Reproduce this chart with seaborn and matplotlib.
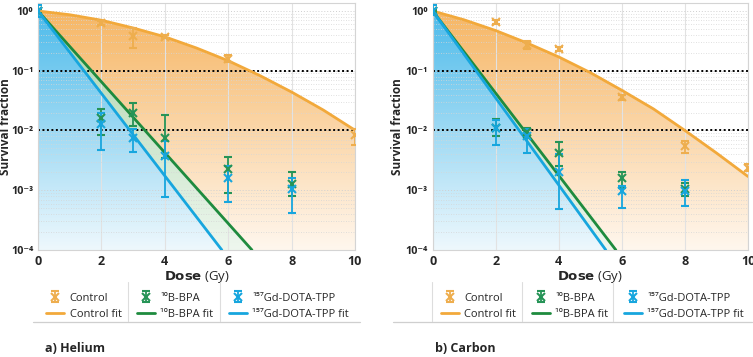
import numpy as np
import matplotlib
matplotlib.use('Agg')
import matplotlib.pyplot as plt
import seaborn as sns
from matplotlib.colors import LinearSegmentedColormap
from matplotlib.lines import Line2D
from matplotlib.ticker import LogLocator, NullFormatter

sns.set_theme(style='white')
plt.rcParams['font.family'] = ['Open Sans', 'DejaVu Sans']

# ---- data ----
dose_ctrl_he = [0, 2, 3, 4, 6, 10]
ctrl_he = [1.0, 0.63, 0.38, 0.37, 0.16, 0.0085]
ctrl_he_hi = [1.05, 0.68, 0.52, 0.39, 0.18, 0.0105]
ctrl_he_lo = [0.95, 0.58, 0.24, 0.35, 0.14, 0.0058]

dose_drug = [0, 2, 3, 4, 6, 8]
bpa_he = [1.0, 0.016, 0.020, 0.0076, 0.0023, 0.00126]
bpa_he_hi = [1.08, 0.023, 0.029, 0.018, 0.0036, 0.0020]
bpa_he_lo = [0.92, 0.0085, 0.012, 0.0035, 0.00089, 0.0008]
gd_he = [1.0, 0.013, 0.0074, 0.0038, 0.0016, 0.00104]
gd_he_hi = [1.25, 0.020, 0.0105, 0.0066, 0.0025, 0.0016]
gd_he_lo = [0.80, 0.0048, 0.0043, 0.00076, 0.00063, 0.00042]

dose_ctrl_c = [0, 2, 3, 4, 6, 8, 10]
ctrl_c = [1.0, 0.65, 0.27, 0.23, 0.036, 0.0055, 0.0024]
ctrl_c_hi = [1.05, 0.70, 0.31, 0.25, 0.040, 0.0066, 0.0027]
ctrl_c_lo = [0.95, 0.60, 0.23, 0.21, 0.032, 0.0042, 0.0021]
bpa_c = [1.0, 0.011, 0.0093, 0.0042, 0.0016, 0.00105]
bpa_c_hi = [1.05, 0.0156, 0.011, 0.0064, 0.0020, 0.0013]
bpa_c_lo = [0.95, 0.008, 0.0075, 0.0025, 0.0011, 0.0008]
gd_c = [1.0, 0.011, 0.008, 0.002, 0.00098, 0.00098]
gd_c_hi = [1.25, 0.015, 0.0105, 0.004, 0.0012, 0.0015]
gd_c_lo = [0.85, 0.0057, 0.0042, 0.00048, 0.0005, 0.00054]

fit_dose = [0, 1, 2, 3, 4, 5, 6, 7, 8, 9, 10]
ctrl_fit_he = [1.0, 0.865, 0.70, 0.52, 0.37, 0.24, 0.147, 0.083, 0.044, 0.022, 0.0101]
ctrl_fit_c = [1.0, 0.71, 0.47, 0.29, 0.17, 0.093, 0.047, 0.023, 0.010, 0.0042, 0.0017]
bpa_fit_he_x = [0, 6.75]
gd_fit_he_x = [0, 5.8]
bpa_fit_c_x = [0, 5.81]
gd_fit_c_x = [0, 5.49]
fit_line_y = [1.0, 1e-4]

xticks = [0, 2, 4, 6, 8, 10]
yticks = [1e-4, 1e-3, 1e-2, 1e-1, 1e0]
ytick_labels = ['10⁻⁴', '10⁻³', '10⁻²', '10⁻¹', '10⁰']
labels = ['Control', 'Control fit', '¹⁰B-BPA', '¹⁰B-BPA fit',
          '¹⁵⁷Gd-DOTA-TPP', '¹⁵⁷Gd-DOTA-TPP fit']

ORANGE = '#f2a93b'
ORANGE_PT = '#eeae4e'
GREEN = '#1e8b3e'
GREEN_PT = '#269457'
BLUE = '#17a6de'
YMIN, YMAX = 1e-4, 1.36


def gradient_fill(ax, x, y, top, bottom, z):
    poly = ax.fill_between(x, y, YMIN, color='none', lw=0)
    cmap = LinearSegmentedColormap.from_list('g', [bottom, top])
    grad = np.linspace(0, 1, 256).reshape(-1, 1)
    im = ax.imshow(grad, cmap=cmap, aspect='auto', extent=[0, 1, 0, 1],
                   transform=ax.transAxes, origin='lower', zorder=z)
    im.set_clip_path(poly.get_paths()[0], transform=ax.transData)


def draw_panel(ax, dose_ctrl, ctrl, ctrl_lo, ctrl_hi, bpa, bpa_lo, bpa_hi,
               gd, gd_lo, gd_hi, ctrl_fit, bpa_x, gd_x, ylab_x):
    ax.set_yscale('log')
    gradient_fill(ax, fit_dose, ctrl_fit, '#f6b460', '#fff7ee', 0.1)
    gradient_fill(ax, bpa_x, fit_line_y, '#a6d3a6', '#eef7ee', 0.2)
    gradient_fill(ax, gd_x, fit_line_y, '#48b9ea', '#eef8fd', 0.3)

    for v in [0.1, 0.01]:
        ax.axhline(v, color='black', ls=(0, (1, 1.3)), lw=1.4, zorder=1.5)

    sns.lineplot(x=fit_dose, y=ctrl_fit, ax=ax, color=ORANGE, lw=2, zorder=3)
    h_cf = ax.lines[-1]
    sns.lineplot(x=bpa_x, y=fit_line_y, ax=ax, color=GREEN, lw=2, zorder=3)
    h_bf = ax.lines[-1]
    sns.lineplot(x=gd_x, y=fit_line_y, ax=ax, color=BLUE, lw=2, zorder=3)
    h_gf = ax.lines[-1]

    def eb(xv, yv, lo, hi, c):
        yv = np.array(yv)
        err = [yv - np.array(lo), np.array(hi) - yv]
        return ax.errorbar(xv, yv, yerr=err, fmt='x', color=c, ms=6, mew=1.5,
                           elinewidth=1.3, capsize=3, capthick=1.3, zorder=4)

    h_c = eb(dose_ctrl, ctrl, ctrl_lo, ctrl_hi, ORANGE_PT)
    h_b = eb(dose_drug, bpa, bpa_lo, bpa_hi, GREEN_PT)
    h_g = eb(dose_drug, gd, gd_lo, gd_hi, BLUE)

    ax.set_xlim(0, 10)
    ax.set_ylim(YMIN, YMAX)
    ax.set_xticks(xticks)
    ax.set_xticklabels([str(t) for t in xticks], fontweight='bold', fontsize=9)
    ax.set_yticks(yticks)
    ax.set_yticklabels(ytick_labels, fontweight='bold', fontsize=7.8)
    ax.yaxis.set_minor_locator(LogLocator(base=10, subs=np.arange(2, 10)))
    ax.yaxis.set_minor_formatter(NullFormatter())
    ax.tick_params(length=0, pad=3.5)
    ax.set_axisbelow(True)
    ax.grid(which='major', axis='x', color='#e2e2e2', lw=0.8)
    ax.grid(which='major', axis='y', color='#d0d0d0', lw=0.7, ls=(0, (1, 2)))
    ax.grid(which='minor', axis='y', color='#d6d6d6', lw=0.6, ls=(0, (1, 2)))
    for s in ax.spines.values():
        s.set_color('#d4d4d4')
        s.set_linewidth(0.8)
    ax.set_ylabel('Survival fraction', fontweight='bold', fontsize=8.5)
    ax.yaxis.set_label_coords(ylab_x, 0.5)
    ax.set_xlabel(r'$\mathbf{Dose}$ (Gy)', fontsize=9.5, labelpad=1)

    leg = ax.legend([h_c, h_cf, h_b, h_bf, h_g, h_gf], labels, ncol=3,
                    loc='upper left', bbox_to_anchor=(0.012, -0.155), frameon=False,
                    fontsize=8, handlelength=1.6, handletextpad=0.5,
                    columnspacing=1.4, labelspacing=0.5, borderaxespad=0)
    return leg


fig = plt.figure(figsize=(7.53, 3.57), dpi=100)
ax1 = fig.add_axes([38 / 753, 107 / 357, 317 / 753, 247 / 357])
ax2 = fig.add_axes([432.7 / 753, 107 / 357, 315.3 / 753, 247 / 357])

draw_panel(ax1, dose_ctrl_he, ctrl_he, ctrl_he_lo, ctrl_he_hi, bpa_he, bpa_he_lo,
           bpa_he_hi, gd_he, gd_he_lo, gd_he_hi, ctrl_fit_he, bpa_fit_he_x,
           gd_fit_he_x, -0.082)
draw_panel(ax2, dose_ctrl_c, ctrl_c, ctrl_c_lo, ctrl_c_hi, bpa_c, bpa_c_lo,
           bpa_c_hi, gd_c, gd_c_lo, gd_c_hi, ctrl_fit_c, bpa_fit_c_x,
           gd_fit_c_x, -0.090)

# legend box rules
W, H = 753, 357
for xs, (x0, x1) in [([128, 220], (33, 360)), ([432, 522, 613], (393, 752))]:
    for xv in xs:
        fig.add_artist(Line2D([xv / W, xv / W], [1 - 282 / H, 1 - 321 / H],
                              color='#dddddd', lw=0.8))
    fig.add_artist(Line2D([x0 / W, x1 / W], [1 - 321.5 / H, 1 - 321.5 / H],
                          color='#cfcfcf', lw=0.9))

fig.text(45 / W, 1 - 349 / H, 'a) Helium', fontweight='bold', fontsize=9, va='center')
fig.text(435 / W, 1 - 349 / H, 'b) Carbon', fontweight='bold', fontsize=9, va='center')

fig.savefig('out.png', dpi=100)
